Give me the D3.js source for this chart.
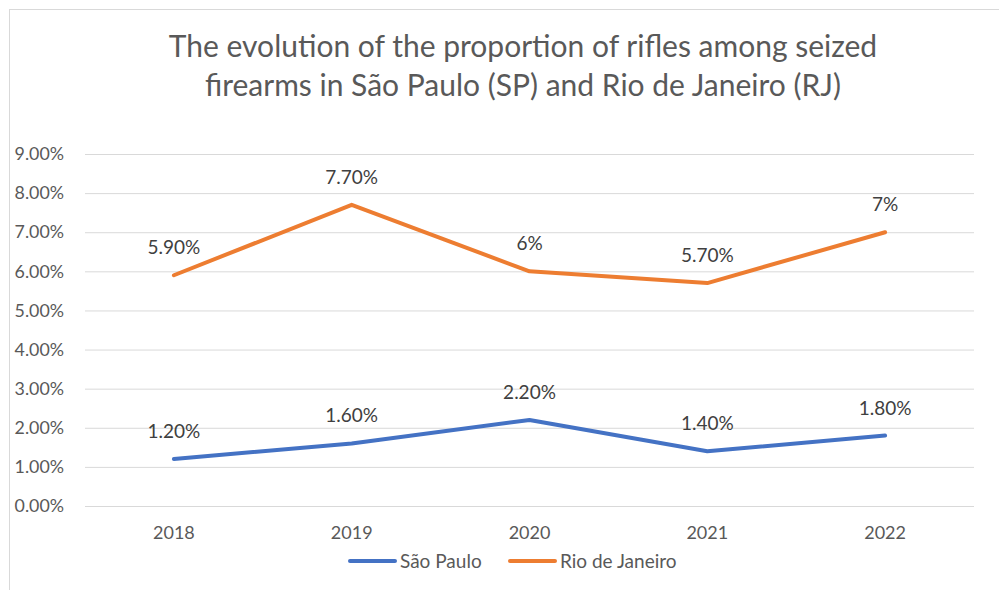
<!DOCTYPE html>
<html><head><meta charset="utf-8">
<script src="https://cdn.jsdelivr.net/npm/d3@7"></script>
<style>html,body{margin:0;padding:0;background:#fff;} svg{display:block;}</style>
</head><body>
<svg id="c" width="999" height="590"></svg>
<script>
const titleLines = ["The evolution of the proportion of rifles among seized", "firearms in São Paulo (SP) and Rio de Janeiro (RJ)"];
const years = ["2018", "2019", "2020", "2021", "2022"];
const saoPaulo = [1.2, 1.6, 2.2, 1.4, 1.8];
const rio = [5.9, 7.7, 6.0, 5.7, 7.0];
const saoPauloLabels = ["1.20%", "1.60%", "2.20%", "1.40%", "1.80%"];
const rioLabels = ["5.90%", "7.70%", "6%", "5.70%", "7%"];
const yTicks = [0, 1, 2, 3, 4, 5, 6, 7, 8, 9];
const seriesNames = ["São Paulo", "Rio de Janeiro"];

const FONT = "Lato, 'Open Sans', sans-serif";
const svg = d3.select("#c");
svg.append("rect").attr("x", 9.5).attr("y", 9.5).attr("width", 1100).attr("height", 1000)
  .attr("fill", "#fff").attr("stroke", "#d9d9d9").attr("stroke-width", 1);

const x = d3.scaleBand().domain(years).range([85, 974]);
const y = d3.scaleLinear().domain([0, 9]).range([506, 154]);

// title
svg.append("g").selectAll("text").data(titleLines).join("text")
  .attr("x", 523).attr("y", (d, i) => 57 + i * 39)
  .attr("text-anchor", "middle").attr("font-family", FONT).attr("font-size", 30)
  .attr("fill", "#595959").text(d => d);

// gridlines
const yAxis = d3.axisLeft(y).tickValues(yTicks).tickSize(-(974 - 85)).tickPadding(21)
  .tickFormat(d => d.toFixed(2) + "%");
const ga = svg.append("g").attr("transform", "translate(85,0)").call(yAxis);
ga.select(".domain").remove();
ga.selectAll(".tick line").attr("stroke", "#d9d9d9").attr("stroke-width", 1);
ga.selectAll(".tick text").attr("font-family", FONT).attr("font-size", 17.8).attr("fill", "#595959");

const xAxis = d3.axisBottom(x).tickSize(0).tickPadding(20);
const gx = svg.append("g").attr("transform", "translate(0,506)").call(xAxis);
gx.select(".domain").remove();
gx.selectAll(".tick text").attr("font-family", FONT).attr("font-size", 18).attr("fill", "#595959");

const line = d3.line().x((d, i) => x(years[i]) + x.bandwidth() / 2).y(d => y(d));
const series = [
  {vals: saoPaulo, labels: saoPauloLabels, color: "#4472C4"},
  {vals: rio, labels: rioLabels, color: "#ED7D31"}
];
series.forEach(s => {
  svg.append("path").datum(s.vals).attr("d", line).attr("fill", "none")
    .attr("stroke", s.color).attr("stroke-width", 4).attr("stroke-linejoin", "round").attr("stroke-linecap", "round");
  svg.append("g").selectAll("text").data(s.vals).join("text")
    .attr("x", (d, i) => x(years[i]) + x.bandwidth() / 2)
    .attr("y", d => y(d) - 21)
    .attr("text-anchor", "middle").attr("font-family", FONT).attr("font-size", 19)
    .attr("fill", "#404040").text((d, i) => s.labels[i]);
});

// legend
const legendX = [348, 508];
seriesNames.forEach((n, i) => {
  svg.append("line").attr("x1", legendX[i] + 2).attr("x2", legendX[i] + 47).attr("y1", 561).attr("y2", 561)
    .attr("stroke", series[i].color).attr("stroke-width", 4).attr("stroke-linecap", "round");
  svg.append("text").attr("x", legendX[i] + 52).attr("y", 568).attr("font-family", FONT).attr("font-size", 19)
    .attr("fill", "#595959").text(n);
});
</script>
</body></html>
